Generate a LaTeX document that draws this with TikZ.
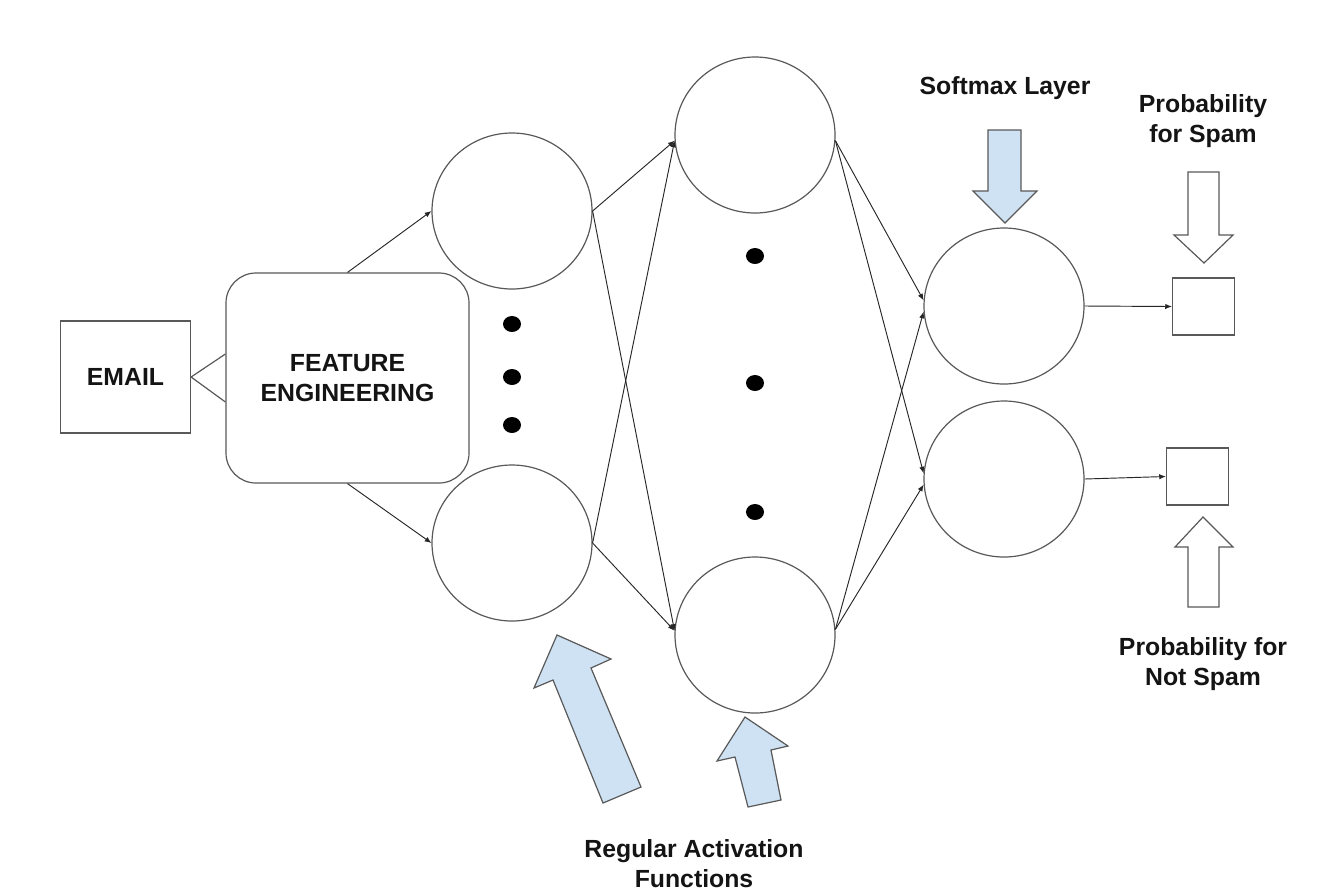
\documentclass[tikz,border=0pt]{standalone}
\usepackage{fontspec}
\setmainfont{Liberation Sans}
\usetikzlibrary{shapes.geometric,arrows.meta}
\definecolor{lnc}{HTML}{595959}
\definecolor{bluef}{HTML}{CFE2F3}
\begin{document}
\begin{tikzpicture}[x=0.75pt,y=-0.75pt,
  neuron/.style={ellipse, draw=lnc, line width=0.9pt, minimum width=120pt, minimum height=117pt, inner sep=0pt},
  boxn/.style={rectangle, draw=lnc, line width=0.9pt, inner sep=0pt},
  lbl/.style={font=\fontsize{18.6}{22.5}\selectfont\bfseries, align=center, text=black!92},
  conn/.style={draw=black!85, line width=0.7pt, -{Latex[length=5pt,width=4pt]}},
  plainline/.style={draw=lnc, line width=0.9pt},
  dotn/.style={ellipse, fill=black, minimum width=13.5pt, minimum height=12pt, inner sep=0pt},
  blockarrow/.style={draw=lnc, line width=0.9pt, fill=bluef, line join=miter},
  hollowarrow/.style={draw=lnc, line width=0.9pt, fill=white, line join=miter}]
\useasboundingbox (0,0) rectangle (1326,894);
\fill[white] (0,0) rectangle (1326,894);

% boxes
\node[boxn, minimum width=97.5pt, minimum height=84pt, lbl] (email) at (125.5,377) {EMAIL};
\node[boxn, rounded corners=22.5pt, minimum width=182.25pt, minimum height=157.5pt, lbl] (fe) at (347.5,378) {FEATURE\\ENGINEERING};

% neurons
\node[neuron] (c1) at (512,211) {};
\node[neuron] (c2) at (512,543) {};
\node[neuron] (l2a) at (755,135) {};
\node[neuron] (l2b) at (755,635) {};
\node[neuron] (c3) at (1004,306) {};
\node[neuron] (c4) at (1004,479) {};

% outputs
\node[boxn, minimum width=46.5pt, minimum height=42.75pt] (o1) at (1203.5,306.5) {};
\node[boxn, minimum width=46.5pt, minimum height=42.75pt] (o2) at (1197.5,476.5) {};

% dots
\node[dotn] (d1) at (512,324) {};
\node[dotn] (d2) at (512,377) {};
\node[dotn] (d3) at (512,425) {};
\node[dotn] (d4) at (755,256) {};
\node[dotn] (d5) at (755,383) {};
\node[dotn] (d6) at (755,512) {};

% connectors
\draw[plainline] (email.east) -- ([yshift=18pt]fe.west);
\draw[plainline] (email.east) -- ([yshift=-18pt]fe.west);
\draw[conn] (fe.north) -- (c1.west);
\draw[conn] (fe.south) -- (c2.west);
\draw[conn] (c1.east) -- (l2a.184);
\draw[conn] (c1.east) -- (l2b.177);
\draw[conn] (c2.east) -- (l2a.184);
\draw[conn] (c2.east) -- (l2b.177);
\draw[conn] (l2a.356) -- (c3.176);
\draw[conn] (l2a.356) -- (c4.176);
\draw[conn] (l2b.4) -- (c3.184);
\draw[conn] (l2b.4) -- (c4.184);
\draw[conn] (c3.east) -- (o1.west);
\draw[conn] (c4.east) -- (o2.west);

% block arrows
\path[blockarrow] (988,130) -- (1021,130) -- (1021,191) -- (1037,191) -- (1005,223) -- (973,191) -- (988,191) -- cycle;
\path[hollowarrow] (1188,172) -- (1219,172) -- (1219,235) -- (1233,235) -- (1204,263) -- (1174,235) -- (1188,235) -- cycle;
\path[hollowarrow] (1188,607) -- (1219,607) -- (1219,547) -- (1233,547) -- (1203,517) -- (1175,547) -- (1188,547) -- cycle;
\path[blockarrow] (557,635) -- (611,659) -- (591,668) -- (641,787) -- (603,803) -- (553,680) -- (534,688) -- cycle;
\path[blockarrow] (745,717) -- (788,746) -- (771,750) -- (781,800) -- (748,807) -- (735,757) -- (717,761) -- cycle;

% labels
\node[lbl] (smx) at (1005,88) {Softmax Layer};
\node[lbl] (pspam) at (1203,121) {Probability\\for Spam};
\node[lbl] (pnot) at (1203,664) {Probability for\\Not Spam};
\node[lbl] (rel) at (694,864) {Regular Activation\\Functions};
\end{tikzpicture}
\end{document}
